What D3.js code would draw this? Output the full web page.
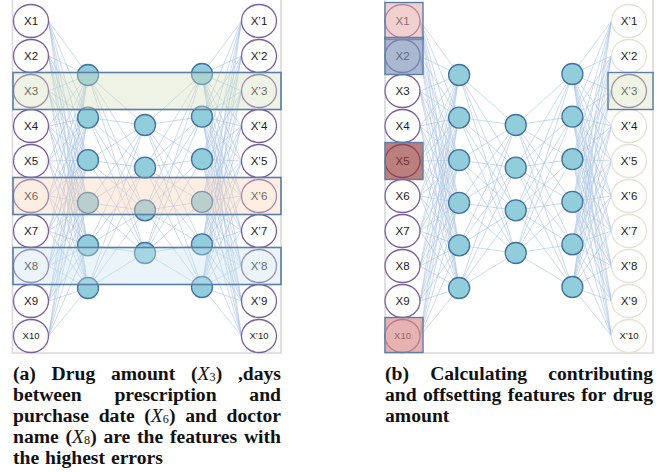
<!DOCTYPE html>
<html><head><meta charset="utf-8">
<script src="https://cdn.jsdelivr.net/npm/d3@7"></script>
<style>body{margin:0;background:#fff}svg{display:block}</style>
</head><body>
<svg id="c" width="667" height="472"></svg>
<script>
// ---- data ----
const inputLabels = ["X1","X2","X3","X4","X5","X6","X7","X8","X9","X10"];
const outputLabels = ["X\u20191","X\u20192","X\u20193","X\u20194","X\u20195","X\u20196","X\u20197","X\u20198","X\u20199","X\u201910"];
const layerSizes = [10, 6, 4, 6, 10];
// panel (a): features with the highest errors (row index, colour)
const errorFeatures = [2, 5, 7];
const errorColors = ["#d6e0bc", "#f9d3b6", "#c9e2f0"];
// panel (b): contributing / offsetting inputs and target output
const contribInputs = [0, 1, 4, 9];
const contribColors = ["#e6aaa9", "#7d92b8", "#963a38", "#d98a89"];
const contribOpacity = [0.55, 0.65, 0.65, 0.65];
const targetOutput = [2];
const captionA = [
  [["(a)"],["Drug"],["amount"],[{m:"X",s:"3"}],[",days"]],
  [["between"],["prescription"],["and"]],
  [["purchase"],["date"],[{m:"X",s:"6"}],["and"],["doctor"]],
  [["name"],[{m:"X",s:"8"}],["are"],["the"],["features"],["with"]],
  [["the"],["highest"],["errors"]]
];
const captionB = [
  [["(b)"],["Calculating"],["contributing"]],
  [["and"],["offsetting"],["features"],["for"],["drug"]],
  [["amount"]]
];

// ---- layout ----
const svg = d3.select("#c");
const lineColor = "#a3bee2";
const nodeFill = "#92cddc", nodeStroke = "#41719c";
const purple = "#7a5e9e";
const rx = 17.5, ry = 16.5, rHidden = 10.5;
const inY = d3.scaleLinear().domain([0, 9]).range([21, 336]);
const hidY = [null,
  d3.scaleLinear().domain([0, 5]).range([75, 288]),
  d3.scaleLinear().domain([0, 3]).range([125, 253]),
  d3.scaleLinear().domain([0, 5]).range([74, 287]),
  null];

function drawPanel(g, xScale, frame, opts) {
  g.append("path")
    .attr("d", `M${frame[0]},-2 V${frame[2]} H${frame[1]} V-2`)
    .attr("fill", "none").attr("stroke", "#d9d9d9").attr("stroke-width", 1.6);
  const layers = layerSizes.map((n, li) => d3.range(n).map(i => ({
    li, i,
    x: xScale(li),
    y: (li === 0 || li === 4) ? inY(i) : hidY[li](i)
  })));
  const links = [];
  for (let li = 0; li < layers.length - 1; li++) {
    layers[li].forEach(a => layers[li + 1].forEach(b => links.push({a, b})));
  }
  g.append("g").selectAll("line").data(links).join("line")
    .attr("x1", d => d.a.li === 0 ? d.a.x + rx : d.a.x)
    .attr("y1", d => d.a.y)
    .attr("x2", d => d.b.li === 4 ? d.b.x - rx : d.b.x)
    .attr("y2", d => d.b.y)
    .attr("stroke", lineColor).attr("stroke-width", 0.7).attr("stroke-opacity", 0.8);
  const hidden = layers.slice(1, 4).flat();
  g.append("g").selectAll("circle").data(hidden).join("circle")
    .attr("cx", d => d.x).attr("cy", d => d.y).attr("r", rHidden)
    .attr("fill", nodeFill).attr("stroke", nodeStroke).attr("stroke-width", 1.3);
  const io = layers[0].map(d => ({...d, label: inputLabels[d.i], out: false}))
    .concat(layers[4].map(d => ({...d, label: outputLabels[d.i], out: true})));
  const ng = g.append("g").selectAll("g").data(io).join("g")
    .attr("transform", d => `translate(${d.x},${d.y})`);
  ng.append("ellipse").attr("rx", rx).attr("ry", ry).attr("fill", "#fff")
    .attr("stroke", d => opts.outStroke(d)).attr("stroke-width", 1.3);
  ng.append("text").text(d => d.label)
    .attr("text-anchor", "middle").attr("dy", "0.35em")
    .style("font-family", "'Liberation Sans', Arial, sans-serif")
    .attr("font-size", d => d.i === 9 ? 9.5 : 11.5).attr("fill", "#1a1a1a");
  return layers;
}

// panel (a)
const xa = d3.scaleLinear().domain([0, 4]).range([31, 259]);
const ga = svg.append("g");
drawPanel(ga, xa, [12.5, 281, 353], {outStroke: () => purple});
ga.append("g").selectAll("rect").data(errorFeatures).join("rect")
  .attr("x", 13).attr("width", 268)
  .attr("y", d => inY(d) - 18.5).attr("height", 37)
  .attr("fill", (d, k) => errorColors[k]).attr("fill-opacity", 0.38)
  .attr("stroke", "#5a7ea6").attr("stroke-width", 1.6);

// panel (b)
const xb = d3.scaleLinear().domain([0, 4]).range([402.5, 629]);
const gb = svg.append("g");
drawPanel(gb, xb, [385, 653, 353], {outStroke: d => (d.out && !targetOutput.includes(d.i)) ? "#e6e2d3" : purple});
gb.append("g").selectAll("rect").data(contribInputs).join("rect")
  .attr("x", 385).attr("width", 38)
  .attr("y", d => inY(d) - 18.5).attr("height", d => d === 9 ? 35 : 37)
  .attr("fill", (d, k) => contribColors[k]).attr("fill-opacity", (d, k) => contribOpacity[k])
  .attr("stroke", "#5a7ea6").attr("stroke-width", 1.4);
gb.append("g").selectAll("rect").data(targetOutput).join("rect")
  .attr("x", 608).attr("width", 45)
  .attr("y", d => inY(d) - 18.5).attr("height", 37)
  .attr("fill", "#d6e0bc").attr("fill-opacity", 0.4)
  .attr("stroke", "#5a7ea6").attr("stroke-width", 1.4);

// captions (justified)
const capFont = "'Liberation Serif', 'Times New Roman', serif";
let capSize = 18;
function addWord(g, word) {
  const t = g.append("text").style("font-family", capFont).style("font-size", capSize + "px")
    .style("font-weight", "bold").attr("fill", "#111");
  word.forEach(seg => {
    if (typeof seg === "string") t.append("tspan").text(seg);
    else {
      t.append("tspan").text("(");
      t.append("tspan").text(seg.m).style("font-style", "italic").style("font-weight", "normal");
      t.append("tspan").text(seg.s).style("font-weight", "normal").style("font-size", (capSize * 0.62) + "px").attr("baseline-shift", "-12%");
      t.append("tspan").text(")");
    }
  });
  return t;
}
{
  const probe = svg.append("g");
  const last = captionA[captionA.length - 1];
  const w = d3.sum(last.map(wd => addWord(probe, wd).node().getComputedTextLength()));
  const per = (w + (last.length - 1) * capSize * 0.3) / capSize;
  probe.remove();
  capSize = Math.max(15, Math.min(20, 150 / per));
}
function caption(lines, x0, x1, y0, lh) {
  const g = svg.append("g");
  lines.forEach((words, li) => {
    const y = y0 + li * lh;
    const ts = words.map(w => addWord(g, w).attr("y", y));
    const ws = ts.map(t => t.node().getComputedTextLength());
    const total = d3.sum(ws);
    const last = li === lines.length - 1;
    const gap = (last || words.length < 2) ? capSize * 0.3 : (x1 - x0 - total) / (words.length - 1);
    let x = x0;
    ts.forEach((t, k) => { t.attr("x", x); x += ws[k] + gap; });
  });
}
caption(captionA, 13, 281, 380, 21);
caption(captionB, 385, 653, 380, 21);
</script>
</body></html>
